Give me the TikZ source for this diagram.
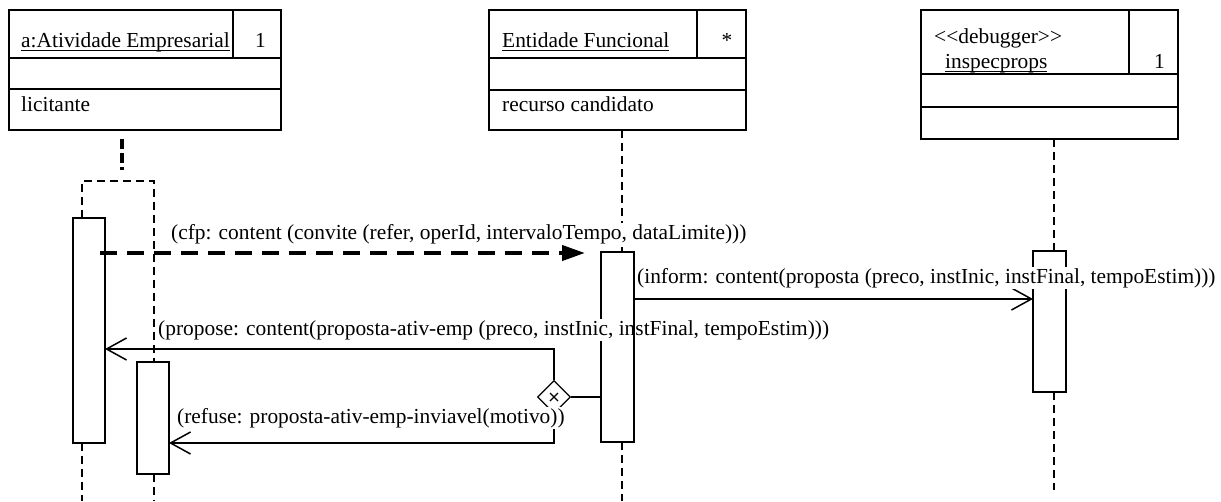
\documentclass[tikz,border=0pt]{standalone}
\usepackage{fontspec}
\setmainfont{Liberation Serif}
\usetikzlibrary{arrows.meta,shapes.geometric}

% underline placed a fixed distance below the baseline
\newcommand{\baseul}[1]{\setbox0=\hbox{#1}\rlap{\rule[-3.6pt]{\wd0}{1.1pt}}\box0}

\begin{document}
\begin{tikzpicture}[x=1pt,y=-1pt,
  font=\fontsize{21.4}{25}\selectfont,
  boxline/.style={line width=1.8pt},
  objbox/.style={draw, line width=1.8pt, anchor=north west, inner sep=0pt, outer sep=0pt},
  txt/.style={anchor=base west, inner sep=0pt},
  lifeline/.style={line width=1.8pt, dash pattern=on 8pt off 5pt},
  lifelinetop/.style={line width=3.2pt, dash pattern=on 10pt off 4pt},
  actbox/.style={draw, fill=white, line width=1.6pt, anchor=north west, inner sep=0pt, outer sep=0pt, minimum width=32pt},
  msg/.style={line width=1.5pt},
  barb/.style={-{Straight Barb[length=20pt,width=22pt,line width=1.5pt]}},
  asyncmsg/.style={line width=4pt, dash pattern=on 17pt off 10pt, -{Triangle[length=23pt,width=15pt]}},
  msglabel/.style={anchor=base west, fill=white, inner xsep=1pt, inner ysep=1pt},
  choice/.style={diamond, draw, line width=1.2pt, fill=white, minimum width=33pt, minimum height=33pt, inner sep=0pt}
]
\useasboundingbox (0,0) rectangle (1221,501);

% ---- object boxes ----
\node[objbox, minimum width=272pt, minimum height=120pt] (ae) at (9,10) {};
\draw[boxline] (9,58) -- (281,58) (9,89) -- (281,89) (233,10) -- (233,58);
\node[txt] (aename) at (21,47) {\baseul{a:Atividade Empresarial}};
\node[txt] (aemult) at (255,47) {1};
\node[txt] (aerole) at (21,111) {licitante};

\node[objbox, minimum width=257pt, minimum height=120pt] (ef) at (489,10) {};
\draw[boxline] (489,58) -- (746,58) (489,90) -- (746,90) (697,10) -- (697,58);
\node[txt] (efname) at (502,47) {\baseul{Entidade Funcional}};
\node[anchor=base, inner sep=0pt] (efmult) at (727,47) {*};
\node[txt] (efrole) at (502,111) {recurso candidato};

\node[objbox, minimum width=257pt, minimum height=129pt] (dbg) at (921,10) {};
\draw[boxline] (921,74) -- (1178,74) (921,107) -- (1178,107) (1129,10) -- (1129,74);
\node[txt] (dbgster) at (934,43) {<\kern0pt<debugger>\kern0pt>};
\node[txt] (dbgname) at (945,68) {\baseul{inspecprops}};
\node[txt] (dbgmult) at (1154,68) {1};

% ---- lifelines ----
\coordinate (ltop) at (122,139);
\coordinate (lbot) at (122,170);
\draw[lifelinetop] (ltop) -- (lbot);

\coordinate (rtl) at (82,181);
\coordinate (rtr) at (154,181);
\draw[lifeline] (82,218) -- (rtl) -- (rtr) -- (154,362);
\draw[lifeline] (82,443) -- (82,501);
\draw[lifeline] (154,474) -- (154,501);

\draw[lifeline] (622,130) -- (622,252);
\draw[lifeline] (622,442) -- (622,501);

\draw[lifeline] (1054,139) -- (1054,251);
\draw[lifeline] (1054,392) -- (1054,490);

% ---- activations ----
\node[actbox, minimum height=225pt] (act1) at (73,218) {};
\node[actbox, minimum height=112pt] (act2) at (137,362) {};
\node[actbox, minimum width=33pt, minimum height=190pt] (actef) at (601,252) {};
\node[actbox, minimum width=33pt, minimum height=141pt] (actdbg) at (1033,251) {};

% ---- messages ----
\coordinate (cfpstart) at (100,253);
\coordinate (cfpend) at (585,253);
\draw[asyncmsg] (cfpstart) -- (cfpend);

\draw[msg, barb] (actef.east |- 0,299) -- (actdbg.west |- 0,299);

\node[choice] (xor) at (554,397) {};
\draw[line width=1.2pt] (xor.center) ++(-4,-4) -- ++(8,8) (xor.center) ++(-4,4) -- ++(8,-8);
\draw[msg] (xor.east) -- (actef.west |- xor.east);
\draw[msg, barb] (xor.north) -- (xor.north |- 0,349) -- (act1.east |- 0,349);
\draw[msg, barb] (xor.south) -- (xor.south |- 0,443) -- (act2.east |- 0,443);

% ---- message labels ----
\node[msglabel] (cfplbl) at (170,239) {(cfp: content (convite (refer, operId, intervaloTempo, dataLimite)))};
\node[msglabel] (informlbl) at (636,283) {(inform: content(proposta (preco, instInic, instFinal, tempoEstim)))};
\node[msglabel] (proposelbl) at (157,335) {(propose: content(proposta-ativ-emp (preco, instInic, instFinal, tempoEstim)))};
\node[msglabel] (refuselbl) at (176,423) {(refuse: proposta-ativ-emp-inviavel(motivo))};

% right edge of the functional entity activation stays in front
\draw[line width=1.6pt] (actef.north east) -- (actef.south east);
\end{tikzpicture}
\end{document}
